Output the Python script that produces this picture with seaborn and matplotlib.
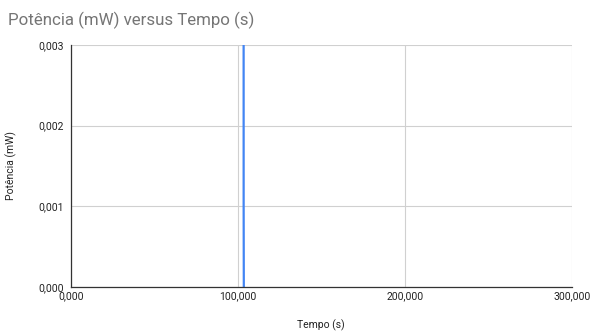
import matplotlib
matplotlib.use("Agg")
import matplotlib.pyplot as plt
import seaborn as sns
import pandas as pd
from matplotlib.ticker import FuncFormatter

# Measured samples: power spike around t ≈ 103 000 s
tempo = [103600, 103500, 103200]
potencia = [0.0, 0.001, 0.05]

df = pd.DataFrame({"Tempo (s)": tempo, "Potência (mW)": potencia})

sns.set_theme(style="white")
plt.rcParams["font.family"] = ["Roboto", "DejaVu Sans"]

fig = plt.figure(figsize=(5.95, 3.33), dpi=100)
ax = fig.add_axes([0.119, 0.138, 0.842, 0.727])

sns.lineplot(data=df, x="Tempo (s)", y="Potência (mW)", ax=ax, sort=False,
             color="#4285f4", linewidth=1.6, estimator=None)

ax.set_xlim(0, 300000)
ax.set_ylim(0, 0.003)
ax.set_xticks([0, 100000, 200000, 300000])
ax.set_yticks([0, 0.001, 0.002, 0.003])

ax.xaxis.set_major_formatter(
    FuncFormatter(lambda v, p: f"{int(round(v)) // 1000},{int(round(v)) % 1000:03d}"))
ax.yaxis.set_major_formatter(FuncFormatter(lambda v, p: f"{v:.3f}".replace(".", ",")))

ax.grid(True, color="#d0d0d0", linewidth=0.8)
ax.set_axisbelow(True)
for s in ["top", "right"]:
    ax.spines[s].set_visible(False)
for s in ["left", "bottom"]:
    ax.spines[s].set_color("#333333")
    ax.spines[s].set_linewidth(0.9)

ax.tick_params(axis="x", length=0, labelsize=7.5, colors="#222222", pad=3)
ax.tick_params(axis="y", length=0, labelsize=7.5, colors="#222222", pad=5)
ax.set_xlabel("Tempo (s)", fontsize=7.5, color="#222222")
ax.set_ylabel("Potência (mW)", fontsize=7.5, color="#222222")
ax.xaxis.set_label_coords(0.5, -0.157)
ax.xaxis.label.set_va("center")
ax.yaxis.set_label_coords(-0.118, 0.5)
ax.yaxis.label.set_va("center")

fig.text(0.013, 0.94, "Potência (mW) versus Tempo (s)", fontsize=12.2,
         color="#757575", ha="left", va="center")

fig.savefig("out.png", dpi=100)
